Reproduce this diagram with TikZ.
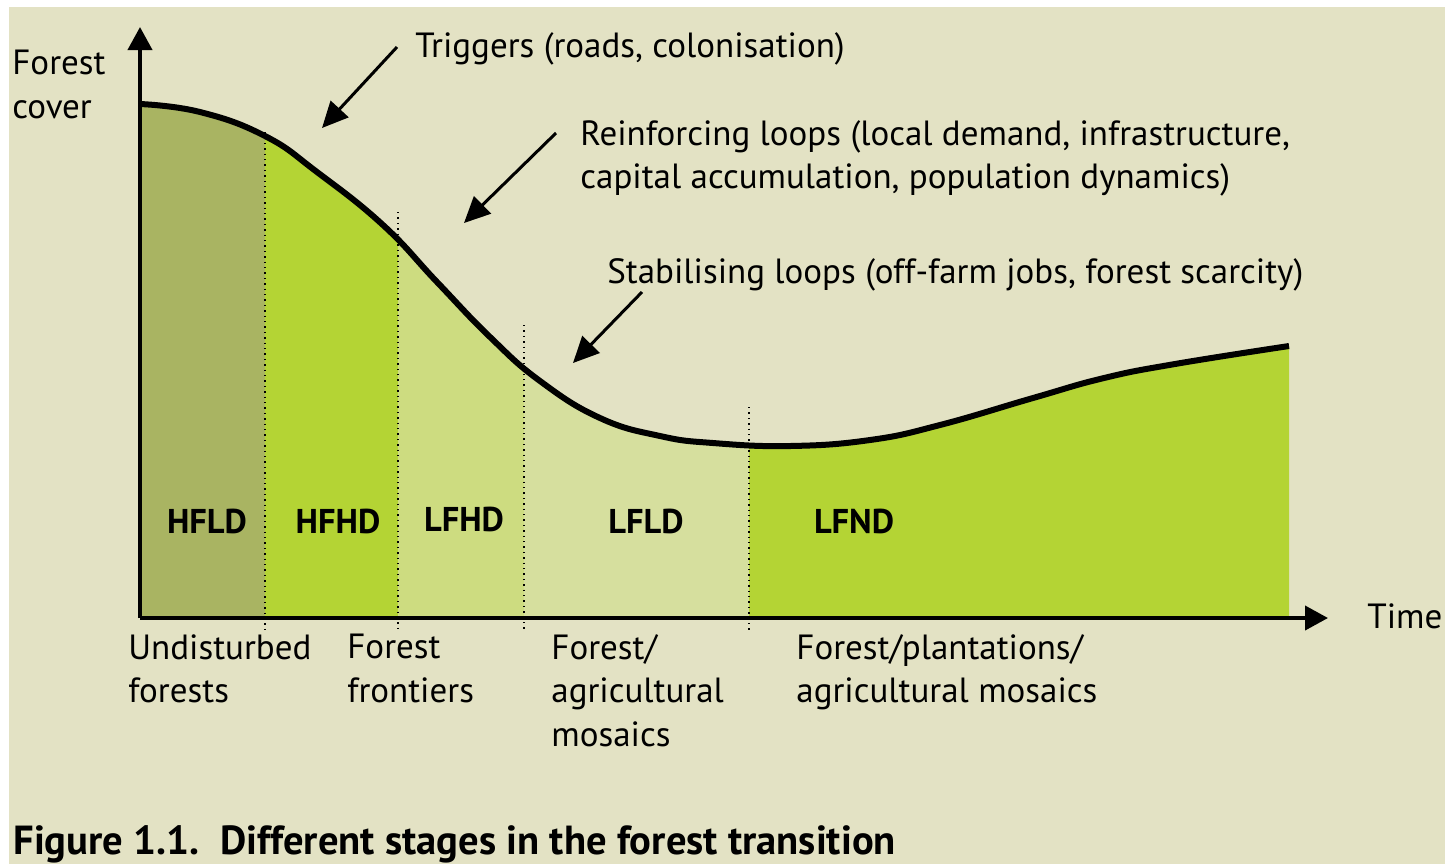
\documentclass[tikz,border=0pt]{standalone}
\usepackage{fontspec}
\setmainfont{PT Sans}
\usepackage{tikz}
\usetikzlibrary{arrows.meta}

\definecolor{bgbeige}{RGB}{227,226,196}
\definecolor{oldgreen}{RGB}{169,180,98}
\definecolor{leafgreen}{RGB}{180,212,52}
\definecolor{palegreen}{RGB}{205,220,128}
\definecolor{palestgreen}{RGB}{214,223,158}

\begin{document}
\begin{tikzpicture}[x=0.5pt, y=-0.5pt,
    every node/.style={inner sep=0pt, font=\fontsize{17.5}{21.75}\selectfont},
    stage/.style={anchor=base, font=\fontsize{17.2}{21.75}\selectfont\bfseries},
    note/.style={align=left},
    axis/.style={line width=2pt, -{Triangle[length=11.5pt, width=12pt]}},
    hint/.style={line width=1.5pt, -{Triangle[length=13pt, width=12pt]}},
    border/.style={dotted, line width=0.7pt},
    forest curve/.style={insert path={-- plot[smooth, tension=0.75] coordinates {
      (140,104) (200,112) (265,136) (317,172) (383,225) (437,282) (490,337)
      (540,381) (600,418) (660,436) (713,443) (790,446) (870,440) (940,425)
      (1033,398) (1104,378) (1175,364) (1289,346)}}}]

  \useasboundingbox (0,0) rectangle (1445,864);
  \fill[white] (0,0) rectangle (1445,864);
  \fill[bgbeige] (9,7) rectangle (1445,864);

  %% stages under the curve
  \foreach \xa/\xb/\col in {140/265/oldgreen, 265/398/leafgreen, 398/524/palegreen,
                            524/749/palestgreen, 749/1300/leafgreen}{
    \begin{scope}
      \clip (\xa,0) rectangle (\xb,617);
      \fill[\col] (140,617) [forest curve] -- (1289,617) -- cycle;
    \end{scope}
  }

  \draw[border] (265,132) -- (265,630);
  \draw[border] (398,212) -- (398,630);
  \draw[border] (524,325) -- (524,630);
  \draw[border] (749,407) -- (749,630);

  \draw[line width=3pt] (140,104) [forest curve];

  %% axes
  \coordinate (O) at (140,618);
  \coordinate (ytip) at (140,27);
  \coordinate (xtip) at (1328,618);
  \draw[axis] (O) -- (ytip);
  \draw[axis] (O) -- (xtip);
  \node[note, anchor=north west] (cover) at (12,50) {Forest\\cover};
  \node[anchor=base west] (time) at (1367,628) {Time};

  \node[stage] (hfld) at (207,533) {HFLD};
  \node[stage] (hfhd) at (338,533) {HFHD};
  \node[stage] (lfhd) at (464,531) {LFHD};
  \node[stage] (lfld) at (646,533) {LFLD};
  \node[stage] (lfnd) at (854,533) {LFND};

  %% drivers
  \node[anchor=base west] (trig) at (415,57) {Triggers (roads, colonisation)};
  \node[note, anchor=north west] (reinf) at (580,120)
    {Reinforcing loops (local demand, infrastructure,\\capital accumulation, population dynamics)};
  \node[anchor=base west] (stab) at (607,283) {Stabilising loops (off-farm jobs, forest scarcity)};

  \coordinate (trigfrom) at (397,47);   \coordinate (trigto) at (322,128);
  \coordinate (reinffrom) at (556,133); \coordinate (reinfto) at (464,223);
  \coordinate (stabfrom) at (642,292);  \coordinate (stabto) at (573,363);
  \draw[hint] (trigfrom) -- (trigto);
  \draw[hint] (reinffrom) -- (reinfto);
  \draw[hint] (stabfrom) -- (stabto);

  %% landscapes
  \node[note, anchor=north west] (undist) at (128,634) {Undisturbed\\forests};
  \node[note, anchor=north west] (front) at (347,634) {Forest\\frontiers};
  \node[note, anchor=north west] (mosaic) at (551,634) {Forest/\\agricultural\\mosaics};
  \node[note, anchor=north west] (plant) at (796,634) {Forest/plantations/\\agricultural mosaics};

  \node[anchor=base west, font=\fontsize{20.3}{24}\selectfont\bfseries] (caption) at (13,854)
    {Figure 1.1.\ \ Different stages in the forest transition};
\end{tikzpicture}
\end{document}
